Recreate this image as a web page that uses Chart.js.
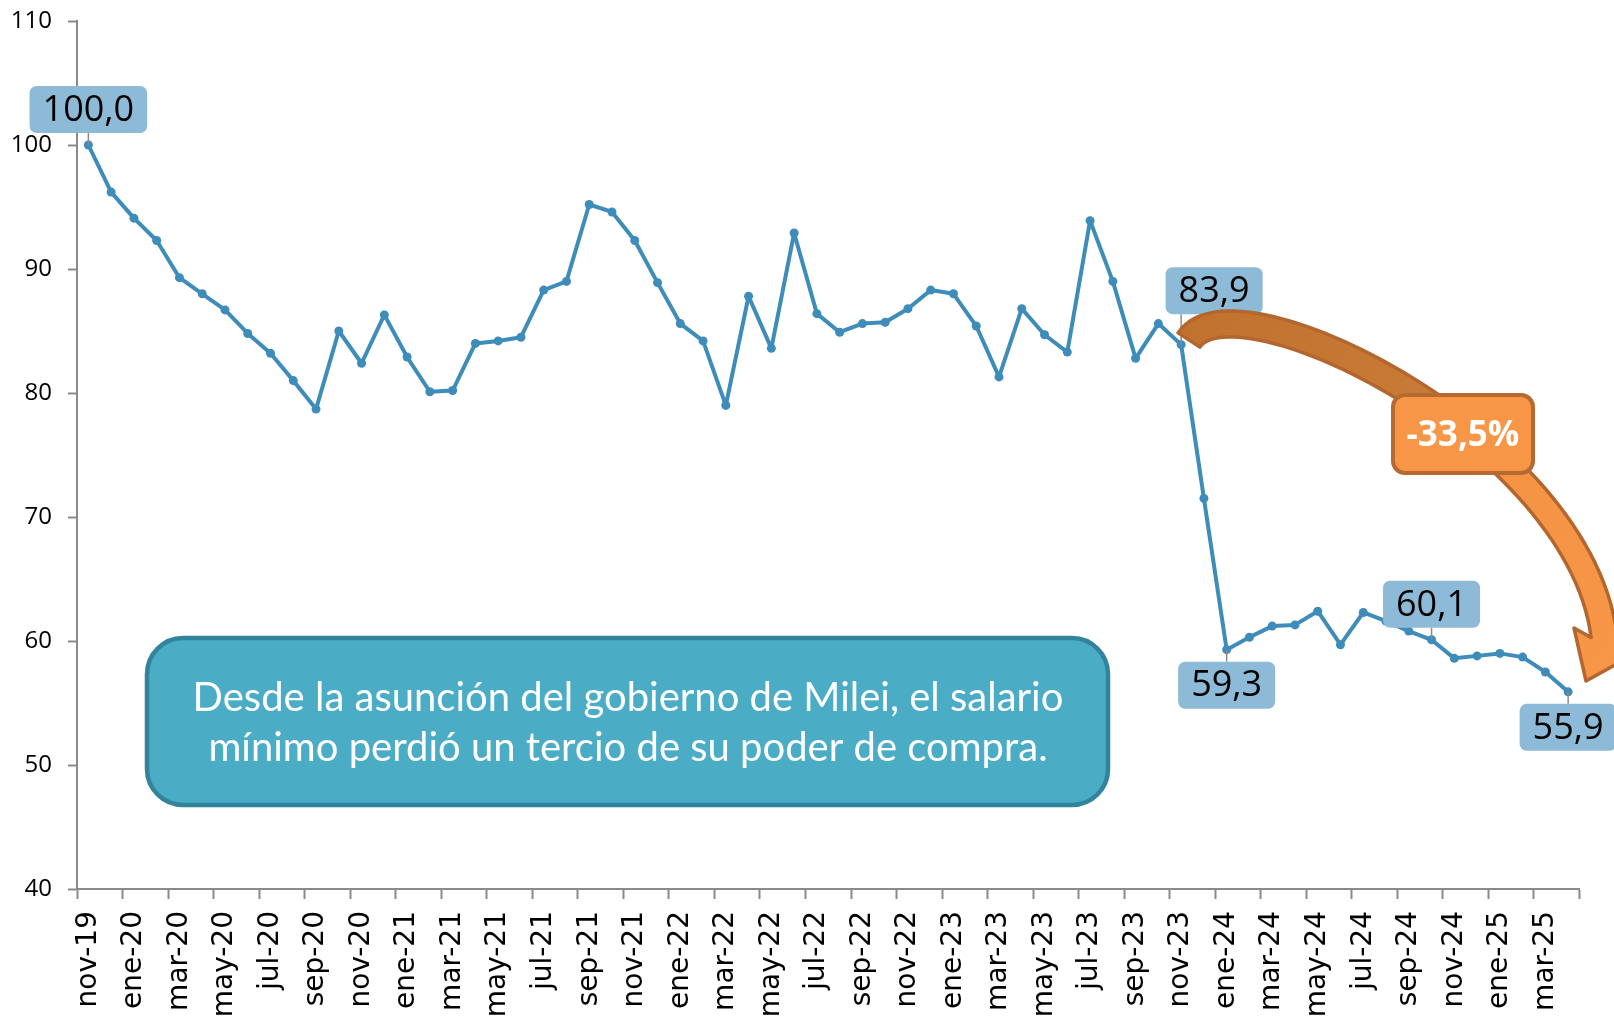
<!DOCTYPE html>
<html>
<head>
<meta charset="utf-8">
<script src="https://cdn.jsdelivr.net/npm/chart.js@4.4.1/dist/chart.umd.min.js"></script>
<style>
  html, body { margin: 0; padding: 0; background: #fff; }
  #wrap { width: 1614px; height: 1021px; }
</style>
</head>
<body>
<div id="wrap"><canvas id="salarioChart" width="1614" height="1021"></canvas></div>
<script>
// Salario mínimo real, índice nov-19 = 100
const meses = [
  'nov-19','dic-19',
  'ene-20','feb-20','mar-20','abr-20','may-20','jun-20','jul-20','ago-20','sep-20','oct-20','nov-20','dic-20',
  'ene-21','feb-21','mar-21','abr-21','may-21','jun-21','jul-21','ago-21','sep-21','oct-21','nov-21','dic-21',
  'ene-22','feb-22','mar-22','abr-22','may-22','jun-22','jul-22','ago-22','sep-22','oct-22','nov-22','dic-22',
  'ene-23','feb-23','mar-23','abr-23','may-23','jun-23','jul-23','ago-23','sep-23','oct-23','nov-23','dic-23',
  'ene-24','feb-24','mar-24','abr-24','may-24','jun-24','jul-24','ago-24','sep-24','oct-24','nov-24','dic-24',
  'ene-25','feb-25','mar-25','abr-25'
];

const salarioReal = [
  100.0, 96.2,
  94.1, 92.3, 89.3, 88.0, 86.7, 84.8, 83.2, 81.0, 78.7, 85.0, 82.4, 86.3,
  82.9, 80.1, 80.2, 84.0, 84.2, 84.5, 88.3, 89.0, 95.2, 94.6, 92.3, 88.9,
  85.6, 84.2, 79.0, 87.8, 83.6, 92.9, 86.4, 84.9, 85.6, 85.7, 86.8, 88.3,
  88.0, 85.4, 81.3, 86.8, 84.7, 83.3, 93.9, 89.0, 82.8, 85.6, 83.9, 71.5,
  59.3, 60.3, 61.2, 61.3, 62.4, 59.7, 62.3, 61.6, 60.8, 60.1, 58.6, 58.8,
  59.0, 58.7, 57.5, 55.9
];

const ejeYMin = 40;
const ejeYMax = 110;
const ejeYPaso = 10;

// puntos con etiqueta (índice del mes y lado del recuadro)
const etiquetas = [
  { i: 0,  lado: 'arriba' },
  { i: 48, lado: 'arribaDer' },
  { i: 50, lado: 'abajo' },
  { i: 59, lado: 'arriba' },
  { i: 65, lado: 'abajo' }
];

const caida = '-33,5%';
const textoRecuadro = [
  'Desde la asunción del gobierno de Milei, el salario',
  'mínimo perdió un tercio de su poder de compra.'
];

const AZUL = '#3e8cb9';
const GRIS = '#8a8a8a';

function fmt(v) { return v.toFixed(1).replace('.', ','); }

const anotaciones = {
  id: 'anotaciones',
  afterDatasetsDraw(chart) {
    const ctx = chart.ctx;
    const xs = chart.scales.x, ys = chart.scales.y;
    ctx.save();

    // recuadro de texto
    ctx.beginPath();
    ctx.roundRect(147, 638, 961, 167, 36);
    ctx.fillStyle = '#4bacc6';
    ctx.fill();
    ctx.lineWidth = 4.5;
    ctx.strokeStyle = '#31849b';
    ctx.stroke();
    ctx.fillStyle = '#fff';
    ctx.textAlign = 'center';
    ctx.textBaseline = 'middle';
    ctx.font = '40px Lato';
    const escala = 865 / ctx.measureText(textoRecuadro[0]).width;
    ctx.font = Math.round(40 * escala) + 'px Lato';
    ctx.fillText(textoRecuadro[0], 628, 698);
    ctx.fillText(textoRecuadro[1], 628, 748);

    // etiquetas de datos
    ctx.font = '36px "Open Sans"';
    etiquetas.forEach(e => {
      const px = xs.getPixelForValue(e.i);
      const py = ys.getPixelForValue(salarioReal[e.i]);
      const txt = fmt(salarioReal[e.i]);
      const w = ctx.measureText(txt).width + 26;
      const h = 47;
      let cx = px, cy;
      if (e.lado === 'arriba') cy = py - 12 - h / 2;
      else if (e.lado === 'abajo') cy = py + 12 + h / 2;
      else { cx = px + 33; cy = py - 54; }
      // línea guía
      ctx.beginPath();
      ctx.moveTo(px, py);
      ctx.lineTo(px, cy + (cy < py ? h / 2 : -h / 2));
      ctx.strokeStyle = GRIS;
      ctx.lineWidth = 1.5;
      ctx.stroke();
      ctx.beginPath();
      ctx.roundRect(cx - w / 2, cy - h / 2, w, h, 7);
      ctx.fillStyle = '#8dbbd7';
      ctx.fill();
      ctx.fillStyle = '#000';
      ctx.fillText(txt, cx, cy + 1);
    });

    // flecha curva
    const P0 = [1189, 340], P1 = [1235, 270], P2 = [1580, 440], P3 = [1604, 636];
    const bz = (t, k) => {
      const u = 1 - t;
      return u * u * u * P0[k] + 3 * u * u * t * P1[k] + 3 * u * t * t * P2[k] + t * t * t * P3[k];
    };
    const dz = (t, k) => {
      const u = 1 - t;
      return 3 * u * u * (P1[k] - P0[k]) + 6 * u * t * (P2[k] - P1[k]) + 3 * t * t * (P3[k] - P2[k]);
    };
    const interior = [], exterior = [];
    const N = 60, ancho = 26;
    for (let j = 0; j <= N; j++) {
      const t = j / N;
      const cx = bz(t, 0), cy = bz(t, 1);
      let dx = dz(t, 0), dy = dz(t, 1);
      const l = Math.hypot(dx, dy);
      const nx = -dy / l, ny = dx / l;
      interior.push([cx + nx * ancho / 2, cy + ny * ancho / 2]);
      exterior.push([cx - nx * ancho / 2, cy - ny * ancho / 2]);
    }
    ctx.beginPath();
    ctx.moveTo(interior[0][0], interior[0][1]);
    interior.forEach(p => ctx.lineTo(p[0], p[1]));
    ctx.lineTo(1574, 628);
    ctx.lineTo(1586, 681);
    ctx.lineTo(1633, 655);
    for (let j = N; j >= 0; j--) ctx.lineTo(exterior[j][0], exterior[j][1]);
    ctx.closePath();
    const g = ctx.createLinearGradient(1190, 330, 1610, 660);
    g.addColorStop(0, '#c2722f');
    g.addColorStop(0.48, '#c97b38');
    g.addColorStop(0.56, '#f59345');
    g.addColorStop(1, '#f79646');
    ctx.fillStyle = g;
    ctx.fill();
    ctx.lineJoin = 'round';
    ctx.lineWidth = 3.5;
    ctx.strokeStyle = '#b3662d';
    ctx.stroke();

    // recuadro de la caída
    ctx.beginPath();
    ctx.roundRect(1393, 395, 140, 78, 12);
    ctx.fillStyle = '#f79646';
    ctx.fill();
    ctx.lineWidth = 4;
    ctx.strokeStyle = '#b66a2f';
    ctx.stroke();
    ctx.fillStyle = '#fff';
    ctx.font = 'bold 35px "Open Sans"';
    ctx.fillText(caida, 1463, 436);

    ctx.restore();
  }
};

new Chart(document.getElementById('salarioChart'), {
  type: 'line',
  data: {
    labels: meses,
    datasets: [{
      data: salarioReal,
      borderColor: AZUL,
      backgroundColor: AZUL,
      borderWidth: 4,
      borderJoinStyle: 'round',
      pointRadius: 4.5,
      pointHoverRadius: 4.5,
      pointBackgroundColor: AZUL,
      pointBorderWidth: 0,
      tension: 0
    }]
  },
  options: {
    responsive: false,
    animation: false,
    layout: { padding: { top: 21, right: 34, left: 0, bottom: 0 } },
    plugins: {
      legend: { display: false },
      tooltip: { enabled: false }
    },
    scales: {
      x: {
        type: 'category',
        offset: true,
        afterFit(scale) { scale.height = 132; },
        border: { display: true, color: GRIS, width: 2 },
        grid: {
          display: true,
          offset: true,
          drawOnChartArea: false,
          drawTicks: true,
          tickLength: 10,
          tickWidth: 2,
          color: c => (c.index === undefined || c.index % 2 === 0) ? GRIS : 'rgba(0,0,0,0)'
        },
        ticks: {
          autoSkip: false,
          maxRotation: 90,
          minRotation: 90,
          padding: 12,
          color: '#000',
          font: { family: '"DejaVu Sans"', size: 28 },
          callback(v, i) { return i % 2 === 0 ? meses[i] : ''; }
        }
      },
      y: {
        min: ejeYMin,
        max: ejeYMax,
        afterFit(scale) {
          scale.width = 77;
          scale.paddingTop = 0;
          scale.paddingBottom = 0;
        },
        border: { display: true, color: GRIS, width: 2 },
        grid: {
          drawOnChartArea: false,
          drawTicks: true,
          tickLength: 9,
          tickWidth: 2,
          color: GRIS
        },
        ticks: {
          stepSize: ejeYPaso,
          padding: 16,
          color: '#000',
          font: { family: '"Open Sans"', size: 24 }
        }
      }
    }
  },
  plugins: [anotaciones]
});
</script>
</body>
</html>
